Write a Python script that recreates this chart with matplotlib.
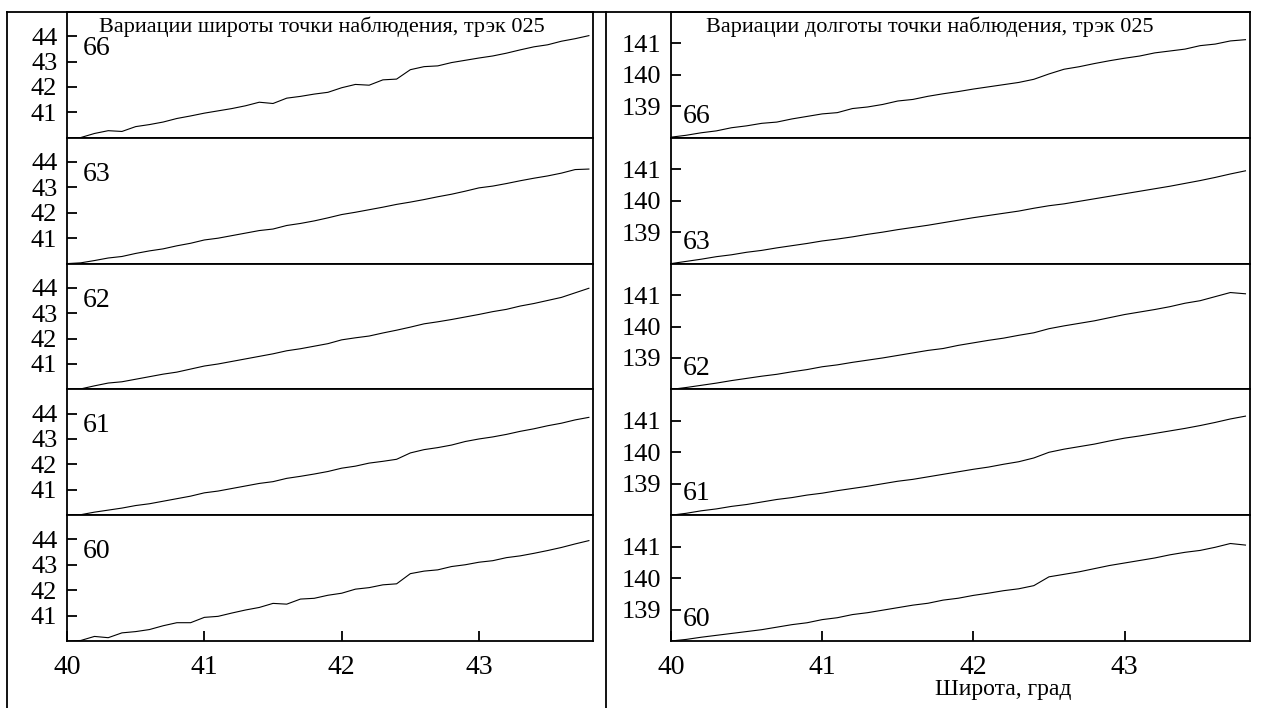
"""Latitude / longitude variations of observation point, track 025."""

import matplotlib

matplotlib.use("Agg")
import matplotlib.pyplot as plt
from matplotlib.lines import Line2D

plt.rcParams["font.family"] = ["Liberation Serif", "DejaVu Serif"]

LAT = [40.0, 40.1, 40.2, 40.3, 40.4, 40.5, 40.6, 40.7, 40.8, 40.9,
       41.0, 41.1, 41.2, 41.3, 41.4, 41.5, 41.6, 41.7, 41.8, 41.9,
       42.0, 42.1, 42.2, 42.3, 42.4, 42.5, 42.6, 42.7, 42.8, 42.9,
       43.0, 43.1, 43.2, 43.3, 43.4, 43.5, 43.6, 43.7, 43.8]

PANEL_LABELS = ["66", "63", "62", "61", "60"]

lat_66 = [40.00, 40.01, 40.17, 40.28, 40.25, 40.44, 40.52, 40.62, 40.76, 40.86,
          40.97, 41.06, 41.15, 41.26, 41.40, 41.35, 41.56, 41.63, 41.72, 41.79,
          41.97, 42.10, 42.07, 42.28, 42.31, 42.68, 42.80, 42.83, 42.96, 43.05,
          43.14, 43.22, 43.33, 43.46, 43.58, 43.66, 43.80, 43.90, 44.02]
lat_63 = [40.00, 40.03, 40.12, 40.22, 40.28, 40.40, 40.50, 40.58, 40.70, 40.80,
          40.93, 41.00, 41.10, 41.20, 41.30, 41.36, 41.50, 41.58, 41.68, 41.80,
          41.93, 42.02, 42.12, 42.22, 42.33, 42.42, 42.52, 42.63, 42.73, 42.85,
          42.98, 43.05, 43.15, 43.26, 43.36, 43.45, 43.56, 43.70, 43.72]
lat_62 = [40.00, 40.02, 40.14, 40.25, 40.30, 40.40, 40.50, 40.60, 40.68, 40.80,
          40.92, 41.00, 41.10, 41.20, 41.30, 41.40, 41.52, 41.60, 41.70, 41.80,
          41.95, 42.03, 42.10, 42.22, 42.33, 42.45, 42.58, 42.66, 42.75, 42.85,
          42.95, 43.06, 43.15, 43.28, 43.38, 43.50, 43.62, 43.80, 43.98]
lat_61 = [40.00, 40.02, 40.12, 40.20, 40.28, 40.38, 40.45, 40.55, 40.65, 40.75,
          40.88, 40.95, 41.05, 41.15, 41.25, 41.32, 41.45, 41.53, 41.62, 41.72,
          41.85, 41.93, 42.05, 42.12, 42.20, 42.45, 42.58, 42.66, 42.76, 42.90,
          43.00, 43.08, 43.18, 43.30, 43.40, 43.52, 43.62, 43.75, 43.85]
lat_60 = [40.00, 40.02, 40.18, 40.13, 40.32, 40.37, 40.45, 40.60, 40.72, 40.72,
          40.93, 40.97, 41.10, 41.22, 41.32, 41.48, 41.45, 41.65, 41.68, 41.80,
          41.88, 42.04, 42.10, 42.21, 42.25, 42.65, 42.75, 42.80, 42.93, 43.00,
          43.10, 43.16, 43.28, 43.35, 43.45, 43.56, 43.68, 43.82, 43.95]

lon_66 = [138.02, 138.08, 138.16, 138.22, 138.32, 138.38, 138.46, 138.50, 138.60, 138.68,
          138.76, 138.80, 138.93, 138.98, 139.06, 139.17, 139.22, 139.32, 139.40, 139.47,
          139.55, 139.62, 139.69, 139.76, 139.86, 140.03, 140.18, 140.26, 140.36, 140.45,
          140.53, 140.60, 140.70, 140.76, 140.82, 140.93, 140.98, 141.08, 141.12]
lon_63 = [138.00, 138.07, 138.14, 138.22, 138.28, 138.36, 138.42, 138.50, 138.57, 138.64,
          138.72, 138.78, 138.85, 138.93, 139.00, 139.08, 139.15, 139.22, 139.30, 139.38,
          139.46, 139.53, 139.60, 139.67, 139.76, 139.84, 139.90, 139.98, 140.06, 140.14,
          140.22, 140.30, 140.38, 140.46, 140.55, 140.64, 140.74, 140.85, 140.95]
lon_62 = [138.00, 138.06, 138.13, 138.20, 138.28, 138.35, 138.42, 138.48, 138.56, 138.63,
          138.72, 138.78, 138.86, 138.93, 139.00, 139.08, 139.16, 139.24, 139.30, 139.40,
          139.48, 139.56, 139.63, 139.72, 139.80, 139.93, 140.02, 140.10, 140.18, 140.28,
          140.38, 140.46, 140.54, 140.63, 140.74, 140.82, 140.95, 141.08, 141.04]
lon_61 = [138.00, 138.06, 138.14, 138.20, 138.28, 138.34, 138.42, 138.50, 138.56, 138.64,
          138.70, 138.78, 138.85, 138.92, 139.00, 139.08, 139.14, 139.22, 139.30, 139.38,
          139.46, 139.53, 139.62, 139.70, 139.82, 140.00, 140.10, 140.18, 140.26, 140.36,
          140.45, 140.52, 140.60, 140.68, 140.76, 140.85, 140.95, 141.06, 141.15]
lon_60 = [138.00, 138.05, 138.12, 138.18, 138.24, 138.30, 138.36, 138.44, 138.52, 138.58,
          138.68, 138.74, 138.84, 138.90, 138.98, 139.06, 139.14, 139.20, 139.30, 139.36,
          139.45, 139.52, 139.60, 139.66, 139.76, 140.04, 140.12, 140.20, 140.30, 140.40,
          140.48, 140.56, 140.64, 140.74, 140.82, 140.88, 140.98, 141.10, 141.05]

LAT_SERIES = [lat_66, lat_63, lat_62, lat_61, lat_60]
LON_SERIES = [lon_66, lon_63, lon_62, lon_61, lon_60]

LAT_TITLE = "Вариации широты точки наблюдения, трэк 025"
LON_TITLE = "Вариации долготы точки наблюдения, трэк 025"
X_LABEL = "Широта, град"

W, H = 1271, 708
TOP_PX, BOTTOM_PX = 12, 641
LEFT_COL = (67, 593)
RIGHT_COL = (671, 1250)
LW_FRAME = 1.3


def fx(px):
    return px / W


def fy(py):
    return 1 - py / H


def style_axes(ax, yticks, last):
    for s in ax.spines.values():
        s.set_linewidth(LW_FRAME)
    ax.set_xlim(40, 43.83)
    ax.set_yticks(yticks)
    ax.tick_params(axis="y", direction="in", length=7, width=LW_FRAME,
                   labelsize=19, pad=7)
    if last:
        ax.set_xticks([40, 41, 42, 43])
        ax.tick_params(axis="x", direction="in", length=7, width=LW_FRAME,
                       labelsize=20, pad=10)
    else:
        ax.set_xticks([])


def main():
    fig = plt.figure(figsize=(W / 100, H / 100), dpi=100)
    panel_h = (BOTTOM_PX - TOP_PX) / 5

    for col, (x0, x1), series, ylim, yticks, title, lab_pos in [
        (0, LEFT_COL, LAT_SERIES, (40, 44.95), [41, 42, 43, 44], LAT_TITLE, (0.03, 0.71)),
        (1, RIGHT_COL, LON_SERIES, (138, 142), [139, 140, 141], LON_TITLE, (0.02, 0.17)),
    ]:
        for i, (lab, vals) in enumerate(zip(PANEL_LABELS, series)):
            top = TOP_PX + i * panel_h
            ax = fig.add_axes([fx(x0), fy(top + panel_h), fx(x1 - x0), panel_h / H])
            ax.plot(LAT, vals, color="black", lw=0.8)
            ax.set_ylim(*ylim)
            style_axes(ax, yticks, i == 4)
            ax.text(lab_pos[0], lab_pos[1], lab, transform=ax.transAxes,
                    fontsize=20, ha="left", va="center")
            if i == 0:
                ax.text(0.06, 0.88, title, transform=ax.transAxes,
                        fontsize=16, ha="left", va="center")

    # outer frame lines
    for xs, ys in [((7, 1250), (TOP_PX, TOP_PX)), ((7, 7), (TOP_PX, H)), ((606, 606), (TOP_PX, H))]:
        fig.add_artist(Line2D([fx(v) for v in xs], [fy(v) for v in ys],
                              transform=fig.transFigure, color="black", lw=LW_FRAME))

    fig.text(fx(1003), fy(690), X_LABEL, fontsize=17, ha="center", va="center")

    fig.savefig("out.png", dpi=100)
    plt.close(fig)


if __name__ == "__main__":
    main()
